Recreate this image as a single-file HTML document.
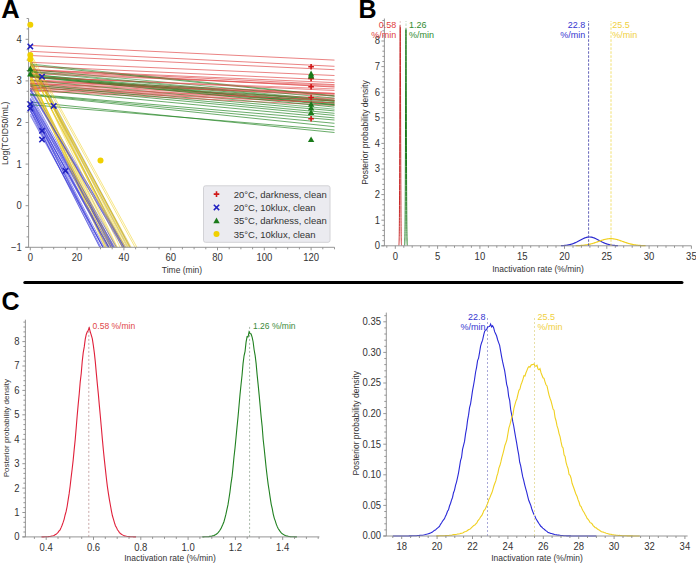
<!DOCTYPE html><html><head><meta charset="utf-8"><style>html,body{margin:0;padding:0;background:#fff;}body{width:696px;height:564px;position:relative;overflow:hidden;}</style></head><body><svg width="696" height="564" viewBox="0 0 696 564" style="position:absolute;left:0;top:0;font-family:'Liberation Sans', sans-serif">
<text x="1.3" y="17.6" font-size="25.5" text-anchor="start" fill="#000" font-weight="bold">A</text>
<line x1="30.3" y1="76.5" x2="116.1" y2="247.3" stroke="#404040" stroke-opacity="0.35" stroke-width="0.5"/>
<line x1="30.3" y1="83.5" x2="334.5" y2="110.9" stroke="#1a801a" stroke-opacity="0.65" stroke-width="1.0"/>
<line x1="30.3" y1="102.0" x2="334.5" y2="132.5" stroke="#1a801a" stroke-opacity="0.65" stroke-width="1.0"/>
<line x1="30.3" y1="70.4" x2="334.5" y2="87.1" stroke="#e04848" stroke-opacity="0.68" stroke-width="1.0"/>
<line x1="30.3" y1="94.0" x2="334.5" y2="120.0" stroke="#1a801a" stroke-opacity="0.65" stroke-width="1.0"/>
<line x1="30.3" y1="88.2" x2="334.5" y2="100.8" stroke="#e04848" stroke-opacity="0.58" stroke-width="1.0"/>
<line x1="30.3" y1="93.0" x2="114.1" y2="247.3" stroke="#3535d8" stroke-opacity="0.65" stroke-width="0.8"/>
<line x1="30.3" y1="75.8" x2="112.9" y2="247.3" stroke="#f0d020" stroke-opacity="0.6" stroke-width="0.9"/>
<line x1="30.3" y1="76.2" x2="334.5" y2="103.6" stroke="#1a801a" stroke-opacity="0.55" stroke-width="1.0"/>
<line x1="30.3" y1="63.1" x2="127.0" y2="247.3" stroke="#f0d020" stroke-opacity="0.6" stroke-width="0.9"/>
<line x1="30.3" y1="69.9" x2="334.5" y2="84.6" stroke="#e04848" stroke-opacity="0.68" stroke-width="1.0"/>
<line x1="30.3" y1="72.1" x2="334.5" y2="86.6" stroke="#e04848" stroke-opacity="0.58" stroke-width="1.0"/>
<line x1="30.3" y1="45.5" x2="334.5" y2="60.1" stroke="#e04848" stroke-opacity="0.68" stroke-width="1.0"/>
<line x1="30.3" y1="90.9" x2="334.5" y2="105.4" stroke="#e04848" stroke-opacity="0.68" stroke-width="1.0"/>
<line x1="30.3" y1="89.1" x2="334.5" y2="117.9" stroke="#1a801a" stroke-opacity="0.65" stroke-width="1.0"/>
<line x1="30.3" y1="74.4" x2="334.5" y2="104.8" stroke="#1a801a" stroke-opacity="0.55" stroke-width="1.0"/>
<line x1="30.3" y1="89.8" x2="125.8" y2="247.3" stroke="#3535d8" stroke-opacity="0.65" stroke-width="0.8"/>
<line x1="30.3" y1="83.2" x2="334.5" y2="98.4" stroke="#e04848" stroke-opacity="0.68" stroke-width="1.0"/>
<line x1="30.3" y1="81.6" x2="111.1" y2="247.3" stroke="#f0d020" stroke-opacity="0.6" stroke-width="0.9"/>
<line x1="30.3" y1="83.2" x2="109.0" y2="247.3" stroke="#f0d020" stroke-opacity="0.6" stroke-width="0.9"/>
<line x1="30.3" y1="77.1" x2="334.5" y2="105.3" stroke="#1a801a" stroke-opacity="0.55" stroke-width="1.0"/>
<line x1="30.3" y1="69.4" x2="123.9" y2="247.3" stroke="#f0d020" stroke-opacity="0.6" stroke-width="0.9"/>
<line x1="30.3" y1="80.5" x2="106.2" y2="247.3" stroke="#f0d020" stroke-opacity="0.6" stroke-width="0.9"/>
<line x1="30.3" y1="110.0" x2="109.2" y2="247.3" stroke="#3535d8" stroke-opacity="0.65" stroke-width="0.8"/>
<line x1="30.3" y1="81.0" x2="334.5" y2="93.4" stroke="#e04848" stroke-opacity="0.58" stroke-width="1.0"/>
<line x1="30.3" y1="63.2" x2="129.9" y2="247.3" stroke="#f0d020" stroke-opacity="0.6" stroke-width="0.9"/>
<line x1="30.3" y1="65.3" x2="334.5" y2="96.3" stroke="#1a801a" stroke-opacity="0.65" stroke-width="1.0"/>
<line x1="30.3" y1="61.6" x2="122.3" y2="247.3" stroke="#f0d020" stroke-opacity="0.6" stroke-width="0.9"/>
<line x1="30.3" y1="73.0" x2="106.0" y2="247.3" stroke="#404040" stroke-opacity="0.35" stroke-width="0.5"/>
<line x1="30.3" y1="63.8" x2="128.8" y2="247.3" stroke="#404040" stroke-opacity="0.35" stroke-width="0.5"/>
<line x1="30.3" y1="62.3" x2="334.5" y2="75.5" stroke="#e04848" stroke-opacity="0.68" stroke-width="1.0"/>
<line x1="30.3" y1="84.3" x2="334.5" y2="99.1" stroke="#e04848" stroke-opacity="0.58" stroke-width="1.0"/>
<line x1="30.3" y1="60.6" x2="125.6" y2="247.3" stroke="#f0d020" stroke-opacity="0.6" stroke-width="0.9"/>
<line x1="30.3" y1="102.9" x2="113.0" y2="247.3" stroke="#3535d8" stroke-opacity="0.65" stroke-width="0.8"/>
<line x1="30.3" y1="78.3" x2="110.1" y2="247.3" stroke="#f0d020" stroke-opacity="0.6" stroke-width="0.9"/>
<line x1="30.3" y1="80.5" x2="334.5" y2="95.9" stroke="#e04848" stroke-opacity="0.68" stroke-width="1.0"/>
<line x1="30.3" y1="66.2" x2="334.5" y2="80.1" stroke="#e04848" stroke-opacity="0.68" stroke-width="1.0"/>
<line x1="30.3" y1="111.2" x2="99.7" y2="247.3" stroke="#3535d8" stroke-opacity="0.65" stroke-width="0.8"/>
<line x1="30.3" y1="79.8" x2="334.5" y2="93.4" stroke="#e04848" stroke-opacity="0.68" stroke-width="1.0"/>
<line x1="30.3" y1="109.5" x2="103.1" y2="247.3" stroke="#3535d8" stroke-opacity="0.65" stroke-width="0.8"/>
<line x1="30.3" y1="84.5" x2="124.4" y2="247.3" stroke="#3535d8" stroke-opacity="0.65" stroke-width="0.8"/>
<line x1="30.3" y1="76.0" x2="334.5" y2="104.6" stroke="#1a801a" stroke-opacity="0.65" stroke-width="1.0"/>
<line x1="30.3" y1="74.4" x2="334.5" y2="101.3" stroke="#1a801a" stroke-opacity="0.65" stroke-width="1.0"/>
<line x1="30.3" y1="69.1" x2="125.0" y2="247.3" stroke="#f0d020" stroke-opacity="0.6" stroke-width="0.9"/>
<line x1="30.3" y1="99.4" x2="112.5" y2="247.3" stroke="#3535d8" stroke-opacity="0.65" stroke-width="0.8"/>
<line x1="30.3" y1="91.0" x2="123.3" y2="247.3" stroke="#3535d8" stroke-opacity="0.65" stroke-width="0.8"/>
<line x1="30.3" y1="65.1" x2="128.2" y2="247.3" stroke="#f0d020" stroke-opacity="0.6" stroke-width="0.9"/>
<line x1="30.3" y1="80.4" x2="111.7" y2="247.3" stroke="#404040" stroke-opacity="0.35" stroke-width="0.5"/>
<line x1="30.3" y1="94.5" x2="334.5" y2="123.3" stroke="#1a801a" stroke-opacity="0.65" stroke-width="1.0"/>
<line x1="30.3" y1="68.2" x2="124.5" y2="247.3" stroke="#404040" stroke-opacity="0.35" stroke-width="0.5"/>
<line x1="30.3" y1="86.5" x2="334.5" y2="115.4" stroke="#1a801a" stroke-opacity="0.65" stroke-width="1.0"/>
<line x1="30.3" y1="76.9" x2="116.8" y2="247.3" stroke="#f0d020" stroke-opacity="0.6" stroke-width="0.9"/>
<line x1="30.3" y1="110.7" x2="100.0" y2="247.3" stroke="#3535d8" stroke-opacity="0.65" stroke-width="0.8"/>
<line x1="30.3" y1="60.4" x2="122.9" y2="247.3" stroke="#404040" stroke-opacity="0.35" stroke-width="0.5"/>
<line x1="30.3" y1="105.7" x2="100.9" y2="247.3" stroke="#3535d8" stroke-opacity="0.65" stroke-width="0.8"/>
<line x1="30.3" y1="82.0" x2="334.5" y2="94.2" stroke="#e04848" stroke-opacity="0.58" stroke-width="1.0"/>
<line x1="30.3" y1="106.7" x2="102.7" y2="247.3" stroke="#3535d8" stroke-opacity="0.65" stroke-width="0.8"/>
<line x1="30.3" y1="115.6" x2="102.9" y2="247.3" stroke="#3535d8" stroke-opacity="0.65" stroke-width="0.8"/>
<line x1="30.3" y1="53.2" x2="136.9" y2="247.3" stroke="#f0d020" stroke-opacity="0.6" stroke-width="0.9"/>
<line x1="30.3" y1="102.2" x2="114.8" y2="247.3" stroke="#3535d8" stroke-opacity="0.65" stroke-width="0.8"/>
<line x1="30.3" y1="63.3" x2="131.2" y2="247.3" stroke="#f0d020" stroke-opacity="0.6" stroke-width="0.9"/>
<line x1="30.3" y1="59.8" x2="129.7" y2="247.3" stroke="#f0d020" stroke-opacity="0.6" stroke-width="0.9"/>
<line x1="30.3" y1="55.5" x2="334.5" y2="69.7" stroke="#e04848" stroke-opacity="0.68" stroke-width="1.0"/>
<line x1="30.3" y1="58.5" x2="130.4" y2="247.3" stroke="#404040" stroke-opacity="0.35" stroke-width="0.5"/>
<line x1="30.3" y1="74.5" x2="111.4" y2="247.3" stroke="#f0d020" stroke-opacity="0.6" stroke-width="0.9"/>
<line x1="30.3" y1="51.3" x2="334.5" y2="66.3" stroke="#e04848" stroke-opacity="0.68" stroke-width="1.0"/>
<line x1="30.3" y1="105.2" x2="108.8" y2="247.3" stroke="#3535d8" stroke-opacity="0.65" stroke-width="0.8"/>
<line x1="30.3" y1="80.3" x2="334.5" y2="109.2" stroke="#1a801a" stroke-opacity="0.55" stroke-width="1.0"/>
<line x1="30.3" y1="85.7" x2="334.5" y2="100.5" stroke="#e04848" stroke-opacity="0.68" stroke-width="1.0"/>
<line x1="30.3" y1="74.3" x2="105.5" y2="247.3" stroke="#f0d020" stroke-opacity="0.6" stroke-width="0.9"/>
<line x1="30.3" y1="104.7" x2="334.5" y2="130.0" stroke="#1a801a" stroke-opacity="0.65" stroke-width="1.0"/>
<line x1="30.3" y1="106.0" x2="104.3" y2="247.3" stroke="#3535d8" stroke-opacity="0.65" stroke-width="0.8"/>
<line x1="30.3" y1="68.4" x2="122.5" y2="247.3" stroke="#f0d020" stroke-opacity="0.6" stroke-width="0.9"/>
<line x1="30.3" y1="77.7" x2="115.4" y2="247.3" stroke="#f0d020" stroke-opacity="0.6" stroke-width="0.9"/>
<line x1="30.3" y1="97.9" x2="113.7" y2="247.3" stroke="#3535d8" stroke-opacity="0.65" stroke-width="0.8"/>
<line x1="30.3" y1="64.0" x2="334.5" y2="95.8" stroke="#1a801a" stroke-opacity="0.55" stroke-width="1.0"/>
<line x1="30.3" y1="98.8" x2="116.5" y2="247.3" stroke="#3535d8" stroke-opacity="0.65" stroke-width="0.8"/>
<line x1="30.3" y1="69.6" x2="334.5" y2="98.1" stroke="#1a801a" stroke-opacity="0.55" stroke-width="1.0"/>
<line x1="30.3" y1="60.4" x2="120.1" y2="247.3" stroke="#f0d020" stroke-opacity="0.6" stroke-width="0.9"/>
<line x1="30.3" y1="95.1" x2="334.5" y2="126.7" stroke="#1a801a" stroke-opacity="0.65" stroke-width="1.0"/>
<line x1="30.3" y1="100.0" x2="108.7" y2="247.3" stroke="#3535d8" stroke-opacity="0.65" stroke-width="0.8"/>
<line x1="30.3" y1="95.0" x2="111.4" y2="247.3" stroke="#3535d8" stroke-opacity="0.65" stroke-width="0.8"/>
<line x1="30.3" y1="60.6" x2="129.6" y2="247.3" stroke="#f0d020" stroke-opacity="0.6" stroke-width="0.9"/>
<line x1="30.3" y1="107.6" x2="110.8" y2="247.3" stroke="#3535d8" stroke-opacity="0.65" stroke-width="0.8"/>
<line x1="30.3" y1="72.1" x2="334.5" y2="101.2" stroke="#1a801a" stroke-opacity="0.55" stroke-width="1.0"/>
<line x1="30.3" y1="76.7" x2="334.5" y2="90.5" stroke="#e04848" stroke-opacity="0.68" stroke-width="1.0"/>
<line x1="30.3" y1="74.4" x2="107.7" y2="247.3" stroke="#f0d020" stroke-opacity="0.6" stroke-width="0.9"/>
<line x1="30.3" y1="78.5" x2="104.7" y2="247.3" stroke="#f0d020" stroke-opacity="0.6" stroke-width="0.9"/>
<line x1="30.3" y1="89.9" x2="334.5" y2="102.9" stroke="#e04848" stroke-opacity="0.68" stroke-width="1.0"/>
<line x1="30.3" y1="77.4" x2="334.5" y2="88.9" stroke="#e04848" stroke-opacity="0.58" stroke-width="1.0"/>
<line x1="30.3" y1="86.9" x2="334.5" y2="100.2" stroke="#e04848" stroke-opacity="0.58" stroke-width="1.0"/>
<line x1="30.3" y1="88.1" x2="334.5" y2="103.0" stroke="#e04848" stroke-opacity="0.58" stroke-width="1.0"/>
<line x1="30.3" y1="89.8" x2="124.2" y2="247.3" stroke="#3535d8" stroke-opacity="0.65" stroke-width="0.8"/>
<line x1="30.3" y1="71.2" x2="334.5" y2="100.2" stroke="#1a801a" stroke-opacity="0.55" stroke-width="1.0"/>
<line x1="30.3" y1="73.7" x2="334.5" y2="85.3" stroke="#e04848" stroke-opacity="0.58" stroke-width="1.0"/>
<line x1="30.3" y1="56.1" x2="135.1" y2="247.3" stroke="#f0d020" stroke-opacity="0.6" stroke-width="0.9"/>
<line x1="30.3" y1="88.0" x2="122.4" y2="247.3" stroke="#3535d8" stroke-opacity="0.65" stroke-width="0.8"/>
<line x1="30.3" y1="104.1" x2="107.5" y2="247.3" stroke="#3535d8" stroke-opacity="0.65" stroke-width="0.8"/>
<line x1="30.3" y1="76.5" x2="334.5" y2="107.1" stroke="#1a801a" stroke-opacity="0.65" stroke-width="1.0"/>
<line x1="30.3" y1="59.3" x2="130.3" y2="247.3" stroke="#404040" stroke-opacity="0.35" stroke-width="0.5"/>
<line x1="30.3" y1="61.8" x2="127.7" y2="247.3" stroke="#404040" stroke-opacity="0.35" stroke-width="0.5"/>
<line x1="30.3" y1="83.6" x2="334.5" y2="94.1" stroke="#e04848" stroke-opacity="0.58" stroke-width="1.0"/>
<line x1="30.3" y1="114.0" x2="103.1" y2="247.3" stroke="#3535d8" stroke-opacity="0.65" stroke-width="0.8"/>
<line x1="30.3" y1="84.9" x2="334.5" y2="113.3" stroke="#1a801a" stroke-opacity="0.65" stroke-width="1.0"/>
<line x1="30.3" y1="69.6" x2="334.5" y2="82.6" stroke="#e04848" stroke-opacity="0.68" stroke-width="1.0"/>
<line x1="30.3" y1="65.9" x2="117.4" y2="247.3" stroke="#f0d020" stroke-opacity="0.6" stroke-width="0.9"/>
<line x1="30.3" y1="103.6" x2="108.5" y2="247.3" stroke="#3535d8" stroke-opacity="0.65" stroke-width="0.8"/>
<line x1="30.3" y1="75.4" x2="334.5" y2="102.6" stroke="#1a801a" stroke-opacity="0.55" stroke-width="1.0"/>
<path d="M25.1 247.3H334.5M28.6 247.3V18.5M30.3 247.3v3M42.0 247.3v2M53.7 247.3v2M65.4 247.3v2M77.1 247.3v3M88.8 247.3v2M100.5 247.3v2M112.2 247.3v2M123.9 247.3v3M135.6 247.3v2M147.3 247.3v2M159.0 247.3v2M170.7 247.3v3M182.4 247.3v2M194.1 247.3v2M205.8 247.3v2M217.5 247.3v3M229.2 247.3v2M240.9 247.3v2M252.6 247.3v2M264.3 247.3v3M276.0 247.3v2M287.7 247.3v2M299.4 247.3v2M311.1 247.3v3M322.8 247.3v2M334.5 247.3v2M28.6 247.3h-3M28.6 236.9h-2M28.6 226.5h-2M28.6 216.1h-2M28.6 205.7h-3M28.6 195.3h-2M28.6 184.9h-2M28.6 174.5h-2M28.6 164.1h-3M28.6 153.7h-2M28.6 143.3h-2M28.6 132.9h-2M28.6 122.5h-3M28.6 112.1h-2M28.6 101.7h-2M28.6 91.3h-2M28.6 80.9h-3M28.6 70.5h-2M28.6 60.1h-2M28.6 49.7h-2M28.6 39.3h-3M28.6 28.9h-2M28.6 18.5h-2" stroke="#8a8a8a" stroke-width="0.9" fill="none"/>
<text x="30.3" y="261.2" font-size="10.07" text-anchor="middle" fill="#333" textLength="5.28" lengthAdjust="spacingAndGlyphs">0</text>
<text x="77.1" y="261.2" font-size="10.07" text-anchor="middle" fill="#333" textLength="10.56" lengthAdjust="spacingAndGlyphs">20</text>
<text x="123.9" y="261.2" font-size="10.07" text-anchor="middle" fill="#333" textLength="10.56" lengthAdjust="spacingAndGlyphs">40</text>
<text x="170.7" y="261.2" font-size="10.07" text-anchor="middle" fill="#333" textLength="10.56" lengthAdjust="spacingAndGlyphs">60</text>
<text x="217.5" y="261.2" font-size="10.07" text-anchor="middle" fill="#333" textLength="10.56" lengthAdjust="spacingAndGlyphs">80</text>
<text x="264.3" y="261.2" font-size="10.07" text-anchor="middle" fill="#333" textLength="15.85" lengthAdjust="spacingAndGlyphs">100</text>
<text x="311.1" y="261.2" font-size="10.07" text-anchor="middle" fill="#333" textLength="15.85" lengthAdjust="spacingAndGlyphs">120</text>
<text x="21.8" y="250.7" font-size="10.07" text-anchor="end" fill="#333" textLength="10.83" lengthAdjust="spacingAndGlyphs">−1</text>
<text x="21.8" y="209.1" font-size="10.07" text-anchor="end" fill="#333" textLength="5.28" lengthAdjust="spacingAndGlyphs">0</text>
<text x="21.8" y="167.5" font-size="10.07" text-anchor="end" fill="#333" textLength="5.28" lengthAdjust="spacingAndGlyphs">1</text>
<text x="21.8" y="125.9" font-size="10.07" text-anchor="end" fill="#333" textLength="5.28" lengthAdjust="spacingAndGlyphs">2</text>
<text x="21.8" y="84.3" font-size="10.07" text-anchor="end" fill="#333" textLength="5.28" lengthAdjust="spacingAndGlyphs">3</text>
<text x="21.8" y="42.7" font-size="10.07" text-anchor="end" fill="#333" textLength="5.28" lengthAdjust="spacingAndGlyphs">4</text>
<text x="182.0" y="272.5" font-size="8.5" text-anchor="middle" fill="#333" >Time (min)</text>
<text x="0.0" y="0.0" font-size="8.5" text-anchor="middle" fill="#333" transform="translate(7.6,133.3) rotate(-90)">Log(TCID50/mL)</text>
<path d="M308.3 66.8h5.6M311.1 64.0v5.6" stroke="#d01818" stroke-width="1.6"/>
<path d="M308.3 78.4h5.6M311.1 75.6v5.6" stroke="#d01818" stroke-width="1.6"/>
<path d="M308.3 86.7h5.6M311.1 83.9v5.6" stroke="#d01818" stroke-width="1.6"/>
<path d="M308.3 97.5h5.6M311.1 94.7v5.6" stroke="#d01818" stroke-width="1.6"/>
<path d="M308.3 118.8h5.6M311.1 116.0v5.6" stroke="#d01818" stroke-width="1.6"/>
<path d="M311.1 70.6L314.3 76.4H307.9Z" fill="#1a7a1a"/>
<path d="M311.1 72.7L314.3 78.5H307.9Z" fill="#1a7a1a"/>
<path d="M311.1 101.0L314.3 106.8H307.9Z" fill="#1a7a1a"/>
<path d="M311.1 109.3L314.3 115.1H307.9Z" fill="#1a7a1a"/>
<path d="M311.1 136.4L314.3 142.1H307.9Z" fill="#1a7a1a"/>
<path d="M311.1 104.7L314.3 110.5H307.9Z" fill="#1a7a1a"/>
<path d="M27.6 43.7l5.4 5.4M27.6 49.1l5.4 -5.4" stroke="#2020c0" stroke-width="1.5"/>
<path d="M27.6 101.5l5.4 5.4M27.6 106.9l5.4 -5.4" stroke="#2020c0" stroke-width="1.5"/>
<path d="M27.6 105.7l5.4 5.4M27.6 111.1l5.4 -5.4" stroke="#2020c0" stroke-width="1.5"/>
<path d="M39.3 74.0l5.4 5.4M39.3 79.4l5.4 -5.4" stroke="#2020c0" stroke-width="1.5"/>
<path d="M51.0 103.2l5.4 5.4M51.0 108.6l5.4 -5.4" stroke="#2020c0" stroke-width="1.5"/>
<path d="M39.3 128.1l5.4 5.4M39.3 133.5l5.4 -5.4" stroke="#2020c0" stroke-width="1.5"/>
<path d="M39.3 136.9l5.4 5.4M39.3 142.3l5.4 -5.4" stroke="#2020c0" stroke-width="1.5"/>
<path d="M62.7 168.1l5.4 5.4M62.7 173.5l5.4 -5.4" stroke="#2020c0" stroke-width="1.5"/>
<circle cx="30.3" cy="24.7" r="3.0" fill="#f0d000"/>
<circle cx="30.3" cy="55.1" r="3.0" fill="#f0d000"/>
<circle cx="30.3" cy="59.3" r="3.0" fill="#f0d000"/>
<circle cx="100.5" cy="160.4" r="3.0" fill="#f0d000"/>
<path d="M30.3 65.6L33.5 71.4H27.1Z" fill="#1a7a1a"/>
<path d="M30.3 70.6L33.5 76.4H27.1Z" fill="#1a7a1a"/>
<rect x="203.5" y="185.8" width="126.5" height="56.5" rx="2" fill="#ebebf0" stroke="#d2d2d6" stroke-width="1"/>
<path d="M213.7 194.1h5.6M216.5 191.3v5.6" stroke="#d01818" stroke-width="1.6"/>
<text x="233.7" y="197.6" font-size="9.88" text-anchor="start" fill="#333" textLength="93.04" lengthAdjust="spacingAndGlyphs">20°C, darkness, clean</text>
<path d="M213.8 204.7l5.4 5.4M213.8 210.1l5.4 -5.4" stroke="#2020c0" stroke-width="1.5"/>
<text x="233.7" y="210.9" font-size="9.88" text-anchor="start" fill="#333" textLength="81.96" lengthAdjust="spacingAndGlyphs">20°C, 10klux, clean</text>
<path d="M216.5 217.5L219.7 223.3H213.3Z" fill="#1a7a1a"/>
<text x="233.7" y="224.2" font-size="9.88" text-anchor="start" fill="#333" textLength="93.04" lengthAdjust="spacingAndGlyphs">35°C, darkness, clean</text>
<circle cx="216.5" cy="234.0" r="3.0" fill="#f0d000"/>
<text x="233.7" y="237.5" font-size="9.88" text-anchor="start" fill="#333" textLength="81.96" lengthAdjust="spacingAndGlyphs">35°C, 10klux, clean</text>
<text x="358.5" y="17.5" font-size="25" text-anchor="start" fill="#000" font-weight="bold">B</text>
<polyline points="398.80,245.46 398.82,245.38 398.84,245.28 398.87,245.16 398.89,245.01 398.92,244.84 398.94,244.63 398.96,244.38 398.99,244.08 399.01,243.73 399.03,243.31 399.06,242.82 399.08,242.25 399.10,241.59 399.13,240.81 399.15,239.92 399.18,238.89 399.20,237.71 399.22,236.37 399.25,234.84 399.27,233.12 399.29,231.17 399.32,228.98 399.34,226.55 399.37,223.83 399.39,220.83 399.41,217.52 399.44,213.89 399.46,209.92 399.48,205.61 399.51,200.95 399.53,195.92 399.56,190.54 399.58,184.80 399.60,178.71 399.63,172.28 399.65,165.53 399.67,158.47 399.70,151.15 399.72,143.59 399.74,135.82 399.77,127.90 399.79,119.87 399.82,111.79 399.84,103.70 399.86,95.68 399.89,87.79 399.91,80.08 399.93,72.64 399.96,65.53 399.98,58.81 400.01,52.54 400.03,46.80 400.05,41.63 400.08,37.10 400.10,33.24 400.12,30.11 400.15,27.73 400.17,26.13 400.19,25.32 400.22,25.32 400.24,26.13 400.27,27.73 400.29,30.11 400.31,33.24 400.34,37.10 400.36,41.63 400.38,46.80 400.41,52.54 400.43,58.81 400.46,65.53 400.48,72.64 400.50,80.08 400.53,87.79 400.55,95.68 400.57,103.70 400.60,111.79 400.62,119.87 400.65,127.90 400.67,135.82 400.69,143.59 400.72,151.15 400.74,158.47 400.76,165.53 400.79,172.28 400.81,178.71 400.83,184.80 400.86,190.54 400.88,195.92 400.91,200.95 400.93,205.61 400.95,209.92 400.98,213.89 401.00,217.52 401.02,220.83 401.05,223.83 401.07,226.55 401.10,228.98 401.12,231.17 401.14,233.12 401.17,234.84 401.19,236.37 401.21,237.71 401.24,238.89 401.26,239.92 401.29,240.81 401.31,241.59 401.33,242.25 401.36,242.82 401.38,243.31 401.40,243.73 401.43,244.08 401.45,244.38 401.47,244.63 401.50,244.84 401.52,245.01 401.55,245.16 401.57,245.28 401.59,245.38 401.62,245.46" fill="none" stroke="#c82828" stroke-width="1.0"/>
<polyline points="404.53,245.47 404.55,245.39 404.58,245.29 404.60,245.17 404.62,245.03 404.65,244.85 404.67,244.65 404.70,244.40 404.72,244.11 404.74,243.76 404.77,243.35 404.79,242.87 404.82,242.30 404.84,241.65 404.86,240.89 404.89,240.01 404.91,238.99 404.94,237.83 404.96,236.51 404.99,235.01 405.01,233.30 405.03,231.39 405.06,229.24 405.08,226.83 405.11,224.16 405.13,221.20 405.15,217.94 405.18,214.36 405.20,210.46 405.23,206.21 405.25,201.62 405.27,196.67 405.30,191.36 405.32,185.71 405.35,179.71 405.37,173.37 405.39,166.72 405.42,159.78 405.44,152.56 405.47,145.11 405.49,137.46 405.51,129.66 405.54,121.75 405.56,113.78 405.59,105.82 405.61,97.92 405.63,90.14 405.66,82.55 405.68,75.22 405.71,68.21 405.73,61.59 405.76,55.42 405.78,49.76 405.80,44.67 405.83,40.21 405.85,36.41 405.88,33.32 405.90,30.98 405.92,29.40 405.95,28.60 405.97,28.60 406.00,29.40 406.02,30.98 406.04,33.32 406.07,36.41 406.09,40.21 406.12,44.67 406.14,49.76 406.16,55.42 406.19,61.59 406.21,68.21 406.24,75.22 406.26,82.55 406.28,90.14 406.31,97.92 406.33,105.82 406.36,113.78 406.38,121.75 406.40,129.66 406.43,137.46 406.45,145.11 406.48,152.56 406.50,159.78 406.52,166.72 406.55,173.37 406.57,179.71 406.60,185.71 406.62,191.36 406.65,196.67 406.67,201.62 406.69,206.21 406.72,210.46 406.74,214.36 406.77,217.94 406.79,221.20 406.81,224.16 406.84,226.83 406.86,229.24 406.89,231.39 406.91,233.30 406.93,235.01 406.96,236.51 406.98,237.83 407.01,238.99 407.03,240.01 407.05,240.89 407.08,241.65 407.10,242.30 407.13,242.87 407.15,243.35 407.17,243.76 407.20,244.11 407.22,244.40 407.25,244.65 407.27,244.85 407.29,245.03 407.32,245.17 407.34,245.29 407.37,245.39 407.39,245.47" fill="none" stroke="#1a7a1a" stroke-width="1.0"/>
<polyline points="561.00,245.67 561.48,245.65 561.95,245.63 562.43,245.60 562.91,245.57 563.39,245.54 563.87,245.51 564.35,245.47 564.82,245.42 565.30,245.37 565.78,245.32 566.26,245.26 566.74,245.20 567.22,245.12 567.69,245.05 568.17,244.96 568.65,244.87 569.13,244.77 569.61,244.66 570.09,244.55 570.56,244.42 571.04,244.29 571.52,244.14 572.00,243.99 572.48,243.83 572.96,243.66 573.43,243.48 573.91,243.29 574.39,243.09 574.87,242.88 575.35,242.67 575.83,242.44 576.30,242.21 576.78,241.98 577.26,241.73 577.74,241.48 578.22,241.23 578.70,240.97 579.17,240.72 579.65,240.46 580.13,240.20 580.61,239.94 581.09,239.68 581.56,239.43 582.04,239.18 582.52,238.94 583.00,238.71 583.48,238.49 583.96,238.28 584.43,238.08 584.91,237.89 585.39,237.72 585.87,237.56 586.35,237.43 586.83,237.31 587.30,237.20 587.78,237.12 588.26,237.06 588.74,237.02 589.22,237.00 589.70,237.00 590.17,237.02 590.65,237.06 591.13,237.12 591.61,237.20 592.09,237.31 592.57,237.43 593.04,237.56 593.52,237.72 594.00,237.89 594.48,238.08 594.96,238.28 595.44,238.49 595.91,238.71 596.39,238.94 596.87,239.18 597.35,239.43 597.83,239.68 598.31,239.94 598.78,240.20 599.26,240.46 599.74,240.72 600.22,240.97 600.70,241.23 601.18,241.48 601.65,241.73 602.13,241.98 602.61,242.21 603.09,242.44 603.57,242.67 604.05,242.88 604.52,243.09 605.00,243.29 605.48,243.48 605.96,243.66 606.44,243.83 606.92,243.99 607.39,244.14 607.87,244.29 608.35,244.42 608.83,244.55 609.31,244.66 609.79,244.77 610.26,244.87 610.74,244.96 611.22,245.05 611.70,245.12 612.18,245.20 612.66,245.26 613.13,245.32 613.61,245.37 614.09,245.42 614.57,245.47 615.05,245.51 615.52,245.54 616.00,245.57 616.48,245.60 616.96,245.63 617.44,245.65 617.92,245.67" fill="none" stroke="#2a2ad0" stroke-width="1.2"/>
<polyline points="575.65,245.69 576.23,245.68 576.82,245.66 577.41,245.64 578.00,245.62 578.58,245.59 579.17,245.56 579.76,245.53 580.35,245.49 580.93,245.45 581.52,245.41 582.11,245.36 582.70,245.31 583.28,245.25 583.87,245.19 584.46,245.12 585.05,245.04 585.63,244.96 586.22,244.87 586.81,244.78 587.40,244.68 587.99,244.57 588.57,244.45 589.16,244.33 589.75,244.20 590.34,244.06 590.92,243.91 591.51,243.76 592.10,243.59 592.69,243.43 593.27,243.25 593.86,243.07 594.45,242.88 595.04,242.69 595.62,242.49 596.21,242.29 596.80,242.08 597.39,241.87 597.97,241.66 598.56,241.45 599.15,241.24 599.74,241.03 600.32,240.82 600.91,240.61 601.50,240.41 602.09,240.22 602.67,240.03 603.26,239.85 603.85,239.67 604.44,239.51 605.02,239.36 605.61,239.22 606.20,239.10 606.79,238.98 607.38,238.89 607.96,238.80 608.55,238.74 609.14,238.69 609.73,238.65 610.31,238.64 610.90,238.64 611.49,238.65 612.08,238.69 612.66,238.74 613.25,238.80 613.84,238.89 614.43,238.98 615.01,239.10 615.60,239.22 616.19,239.36 616.78,239.51 617.36,239.67 617.95,239.85 618.54,240.03 619.13,240.22 619.71,240.41 620.30,240.61 620.89,240.82 621.48,241.03 622.06,241.24 622.65,241.45 623.24,241.66 623.83,241.87 624.42,242.08 625.00,242.29 625.59,242.49 626.18,242.69 626.77,242.88 627.35,243.07 627.94,243.25 628.53,243.43 629.12,243.59 629.70,243.76 630.29,243.91 630.88,244.06 631.47,244.20 632.05,244.33 632.64,244.45 633.23,244.57 633.82,244.68 634.40,244.78 634.99,244.87 635.58,244.96 636.17,245.04 636.75,245.12 637.34,245.19 637.93,245.25 638.52,245.31 639.10,245.36 639.69,245.41 640.28,245.45 640.87,245.49 641.45,245.53 642.04,245.56 642.63,245.59 643.22,245.62 643.81,245.64 644.39,245.66 644.98,245.68 645.57,245.69" fill="none" stroke="#f0d020" stroke-width="1.2"/>
<path d="M381.4 245.8H691.4M384.4 245.8V18.5M386.8 245.8v2M395.3 245.8v3M403.8 245.8v2M412.2 245.8v2M420.7 245.8v2M429.1 245.8v2M437.6 245.8v3M446.1 245.8v2M454.5 245.8v2M463.0 245.8v2M471.4 245.8v2M479.9 245.8v3M488.4 245.8v2M496.8 245.8v2M505.3 245.8v2M513.7 245.8v2M522.2 245.8v3M530.7 245.8v2M539.1 245.8v2M547.6 245.8v2M556.0 245.8v2M564.5 245.8v3M573.0 245.8v2M581.4 245.8v2M589.9 245.8v2M598.3 245.8v2M606.8 245.8v3M615.3 245.8v2M623.7 245.8v2M632.2 245.8v2M640.6 245.8v2M649.1 245.8v3M657.6 245.8v2M666.0 245.8v2M674.5 245.8v2M682.9 245.8v2M691.4 245.8v3M384.4 245.8h-3M384.4 240.7h-2M384.4 235.6h-2M384.4 230.4h-2M384.4 225.3h-2M384.4 220.2h-3M384.4 215.1h-2M384.4 210.0h-2M384.4 204.8h-2M384.4 199.7h-2M384.4 194.6h-3M384.4 189.5h-2M384.4 184.4h-2M384.4 179.2h-2M384.4 174.1h-2M384.4 169.0h-3M384.4 163.9h-2M384.4 158.8h-2M384.4 153.6h-2M384.4 148.5h-2M384.4 143.4h-3M384.4 138.3h-2M384.4 133.2h-2M384.4 128.0h-2M384.4 122.9h-2M384.4 117.8h-3M384.4 112.7h-2M384.4 107.6h-2M384.4 102.4h-2M384.4 97.3h-2M384.4 92.2h-3M384.4 87.1h-2M384.4 82.0h-2M384.4 76.8h-2M384.4 71.7h-2M384.4 66.6h-3M384.4 61.5h-2M384.4 56.4h-2M384.4 51.2h-2M384.4 46.1h-2M384.4 41.0h-3M384.4 35.9h-2M384.4 30.8h-2M384.4 25.6h-2M384.4 20.5h-2" stroke="#8a8a8a" stroke-width="0.9" fill="none"/>
<text x="395.3" y="260.1" font-size="10.07" text-anchor="middle" fill="#333" textLength="5.28" lengthAdjust="spacingAndGlyphs">0</text>
<text x="437.6" y="260.1" font-size="10.07" text-anchor="middle" fill="#333" textLength="5.28" lengthAdjust="spacingAndGlyphs">5</text>
<text x="479.9" y="260.1" font-size="10.07" text-anchor="middle" fill="#333" textLength="10.56" lengthAdjust="spacingAndGlyphs">10</text>
<text x="522.2" y="260.1" font-size="10.07" text-anchor="middle" fill="#333" textLength="10.56" lengthAdjust="spacingAndGlyphs">15</text>
<text x="564.5" y="260.1" font-size="10.07" text-anchor="middle" fill="#333" textLength="10.56" lengthAdjust="spacingAndGlyphs">20</text>
<text x="606.8" y="260.1" font-size="10.07" text-anchor="middle" fill="#333" textLength="10.56" lengthAdjust="spacingAndGlyphs">25</text>
<text x="649.1" y="260.1" font-size="10.07" text-anchor="middle" fill="#333" textLength="10.56" lengthAdjust="spacingAndGlyphs">30</text>
<text x="691.4" y="260.1" font-size="10.07" text-anchor="middle" fill="#333" textLength="10.56" lengthAdjust="spacingAndGlyphs">35</text>
<text x="380.0" y="249.2" font-size="10.07" text-anchor="end" fill="#333" textLength="5.28" lengthAdjust="spacingAndGlyphs">0</text>
<text x="380.0" y="223.6" font-size="10.07" text-anchor="end" fill="#333" textLength="5.28" lengthAdjust="spacingAndGlyphs">1</text>
<text x="380.0" y="198.0" font-size="10.07" text-anchor="end" fill="#333" textLength="5.28" lengthAdjust="spacingAndGlyphs">2</text>
<text x="380.0" y="172.4" font-size="10.07" text-anchor="end" fill="#333" textLength="5.28" lengthAdjust="spacingAndGlyphs">3</text>
<text x="380.0" y="146.8" font-size="10.07" text-anchor="end" fill="#333" textLength="5.28" lengthAdjust="spacingAndGlyphs">4</text>
<text x="380.0" y="121.2" font-size="10.07" text-anchor="end" fill="#333" textLength="5.28" lengthAdjust="spacingAndGlyphs">5</text>
<text x="380.0" y="95.6" font-size="10.07" text-anchor="end" fill="#333" textLength="5.28" lengthAdjust="spacingAndGlyphs">6</text>
<text x="380.0" y="70.0" font-size="10.07" text-anchor="end" fill="#333" textLength="5.28" lengthAdjust="spacingAndGlyphs">7</text>
<text x="380.0" y="44.4" font-size="10.07" text-anchor="end" fill="#333" textLength="5.28" lengthAdjust="spacingAndGlyphs">8</text>
<text x="538.0" y="272.0" font-size="8.5" text-anchor="middle" fill="#333" >Inactivation rate (%/min)</text>
<text x="0.0" y="0.0" font-size="8.5" text-anchor="middle" fill="#333" transform="translate(368,132.5) rotate(-90)">Posterior probability density</text>
<line x1="400.2" y1="27" x2="400.2" y2="21" stroke="#e0c0c0" stroke-width="0.9" stroke-dasharray="2.5 1.5"/>
<line x1="406.0" y1="30" x2="406.0" y2="21" stroke="#b8d4b8" stroke-width="0.9" stroke-dasharray="2.5 1.5"/>
<line x1="588.6" y1="245.8" x2="588.6" y2="21" stroke="#5050b0" stroke-width="0.9" stroke-dasharray="2.5 1.5"/>
<line x1="611.0" y1="245.8" x2="611.0" y2="21" stroke="#f0dc60" stroke-width="0.9" stroke-dasharray="2.5 1.5"/>
<text x="396.3" y="28.3" font-size="9" text-anchor="end" fill="#e04040" >0.58</text>
<text x="396.3" y="38.3" font-size="9" text-anchor="end" fill="#e04040" >%/min</text>
<text x="408.9" y="28.3" font-size="9" text-anchor="start" fill="#308a30" >1.26</text>
<text x="408.9" y="38.3" font-size="9" text-anchor="start" fill="#308a30" >%/min</text>
<text x="585.3" y="28.3" font-size="9" text-anchor="end" fill="#3535d0" >22.8</text>
<text x="585.3" y="38.3" font-size="9" text-anchor="end" fill="#3535d0" >%/min</text>
<text x="612.3" y="28.3" font-size="9" text-anchor="start" fill="#f0d040" >25.5</text>
<text x="612.3" y="38.3" font-size="9" text-anchor="start" fill="#f0d040" >%/min</text>
<line x1="24.9" y1="282.5" x2="681.9" y2="282.5" stroke="#000" stroke-width="3.2" stroke-linecap="round"/>
<text x="1.6" y="309.6" font-size="25" text-anchor="start" fill="#000" font-weight="bold">C</text>
<line x1="88.8" y1="536.9" x2="88.8" y2="325" stroke="#c8a8a8" stroke-width="1" stroke-dasharray="2 2"/>
<polyline points="41.47,536.90 41.97,536.87 42.98,536.86 43.99,536.84 44.99,536.82 46.00,536.78 47.01,536.69 48.01,536.66 49.02,536.53 50.02,536.48 51.03,536.22 52.04,536.01 53.04,535.80 54.05,535.47 55.06,534.83 56.06,534.35 57.07,533.44 58.08,532.34 59.08,530.93 60.09,529.85 61.09,527.63 62.10,525.22 63.11,522.42 64.11,519.34 65.12,514.98 66.13,511.41 67.13,506.52 68.14,499.94 69.15,493.65 70.15,486.02 71.16,477.09 72.16,469.05 73.17,460.08 74.18,449.67 75.18,439.82 76.19,428.07 77.20,415.46 78.20,404.42 79.21,394.03 80.22,381.83 81.22,373.45 82.23,361.44 83.23,352.70 84.24,346.91 85.25,339.10 86.25,334.48 87.26,331.78 88.27,330.23 89.27,327.89 90.28,331.85 91.29,335.14 92.29,338.71 93.30,345.11 94.31,352.68 95.31,361.92 96.32,373.08 97.32,383.86 98.33,393.86 99.34,405.39 100.34,416.29 101.35,427.47 102.36,439.08 103.36,450.00 104.37,459.93 105.38,469.11 106.38,478.30 107.39,486.57 108.39,493.33 109.40,499.64 110.41,505.23 111.41,510.86 112.42,515.75 113.43,519.10 114.43,522.61 115.44,525.68 116.45,527.40 117.45,529.75 118.46,530.97 119.46,532.59 120.47,533.48 121.48,534.20 122.48,534.88 123.49,535.37 124.50,535.84 125.50,535.92 126.51,536.28 127.52,536.47 128.52,536.57 129.53,536.60 130.53,536.73 131.54,536.80 132.55,536.82 133.55,536.85 134.56,536.88 135.57,536.88 136.07,536.90" fill="none" stroke="#e0203a" stroke-width="1.1"/>
<line x1="249.6" y1="536.9" x2="249.6" y2="325" stroke="#a8b8a8" stroke-width="1" stroke-dasharray="2 2"/>
<polyline points="202.29,536.90 202.79,536.85 203.80,536.86 204.81,536.82 205.81,536.77 206.82,536.75 207.83,536.73 208.83,536.60 209.84,536.39 210.84,536.33 211.85,536.11 212.86,535.75 213.86,535.61 214.87,535.07 215.88,534.55 216.88,533.74 217.89,532.83 218.90,531.73 219.90,530.25 220.91,528.67 221.91,526.44 222.92,524.18 223.93,521.74 224.93,518.05 225.94,514.13 226.95,509.48 227.95,504.90 228.96,498.47 229.97,491.81 230.97,483.57 231.98,477.20 232.98,467.66 233.99,456.98 235.00,448.07 236.00,437.77 237.01,427.13 238.02,417.02 239.02,405.76 240.03,394.34 241.04,384.50 242.04,375.27 243.05,363.60 244.05,355.77 245.06,351.31 246.07,342.11 247.07,336.62 248.08,336.83 249.09,331.82 250.09,333.59 251.10,334.02 252.11,337.03 253.11,341.74 254.12,349.77 255.13,355.42 256.13,363.58 257.14,374.91 258.14,384.59 259.15,394.92 260.16,406.01 261.16,417.14 262.17,426.55 263.18,439.52 264.18,448.45 265.19,458.41 266.20,468.31 267.20,476.70 268.21,484.57 269.21,491.02 270.22,497.80 271.23,504.36 272.23,508.72 273.24,514.07 274.25,518.11 275.25,520.89 276.26,524.08 277.27,526.64 278.27,528.75 279.28,530.18 280.28,531.69 281.29,532.89 282.30,533.74 283.30,534.35 284.31,535.05 285.32,535.53 286.32,535.89 287.33,536.09 288.34,536.36 289.34,536.43 290.35,536.58 291.35,536.70 292.36,536.75 293.37,536.80 294.37,536.83 295.38,536.84 296.39,536.88 296.89,536.90" fill="none" stroke="#208020" stroke-width="1.1"/>
<path d="M22.4 536.9H319.4M25.4 536.9V319.7M34.4 536.9v2M46.2 536.9v3M58.0 536.9v2M69.8 536.9v2M81.7 536.9v2M93.5 536.9v3M105.3 536.9v2M117.2 536.9v2M129.0 536.9v2M140.8 536.9v3M152.6 536.9v2M164.5 536.9v2M176.3 536.9v2M188.1 536.9v3M199.9 536.9v2M211.8 536.9v2M223.6 536.9v2M235.4 536.9v3M247.2 536.9v2M259.1 536.9v2M270.9 536.9v2M282.7 536.9v3M294.5 536.9v2M306.4 536.9v2M318.2 536.9v2M25.4 536.9h-3M25.4 532.0h-2M25.4 527.1h-2M25.4 522.3h-2M25.4 517.4h-2M25.4 512.5h-3M25.4 507.6h-2M25.4 502.7h-2M25.4 497.8h-2M25.4 493.0h-2M25.4 488.1h-3M25.4 483.2h-2M25.4 478.3h-2M25.4 473.4h-2M25.4 468.6h-2M25.4 463.7h-3M25.4 458.8h-2M25.4 453.9h-2M25.4 449.0h-2M25.4 444.1h-2M25.4 439.3h-3M25.4 434.4h-2M25.4 429.5h-2M25.4 424.6h-2M25.4 419.7h-2M25.4 414.8h-3M25.4 410.0h-2M25.4 405.1h-2M25.4 400.2h-2M25.4 395.3h-2M25.4 390.4h-3M25.4 385.6h-2M25.4 380.7h-2M25.4 375.8h-2M25.4 370.9h-2M25.4 366.0h-3M25.4 361.1h-2M25.4 356.3h-2M25.4 351.4h-2M25.4 346.5h-2M25.4 341.6h-3M25.4 336.7h-2M25.4 331.9h-2M25.4 327.0h-2M25.4 322.1h-2" stroke="#8a8a8a" stroke-width="0.9" fill="none"/>
<text x="46.2" y="550.5" font-size="10.07" text-anchor="middle" fill="#333" textLength="13.21" lengthAdjust="spacingAndGlyphs">0.4</text>
<text x="93.5" y="550.5" font-size="10.07" text-anchor="middle" fill="#333" textLength="13.21" lengthAdjust="spacingAndGlyphs">0.6</text>
<text x="140.8" y="550.5" font-size="10.07" text-anchor="middle" fill="#333" textLength="13.21" lengthAdjust="spacingAndGlyphs">0.8</text>
<text x="188.1" y="550.5" font-size="10.07" text-anchor="middle" fill="#333" textLength="13.21" lengthAdjust="spacingAndGlyphs">1.0</text>
<text x="235.4" y="550.5" font-size="10.07" text-anchor="middle" fill="#333" textLength="13.21" lengthAdjust="spacingAndGlyphs">1.2</text>
<text x="282.7" y="550.5" font-size="10.07" text-anchor="middle" fill="#333" textLength="13.21" lengthAdjust="spacingAndGlyphs">1.4</text>
<text x="19.5" y="540.3" font-size="10.07" text-anchor="end" fill="#333" textLength="5.28" lengthAdjust="spacingAndGlyphs">0</text>
<text x="19.5" y="515.9" font-size="10.07" text-anchor="end" fill="#333" textLength="5.28" lengthAdjust="spacingAndGlyphs">1</text>
<text x="19.5" y="491.5" font-size="10.07" text-anchor="end" fill="#333" textLength="5.28" lengthAdjust="spacingAndGlyphs">2</text>
<text x="19.5" y="467.1" font-size="10.07" text-anchor="end" fill="#333" textLength="5.28" lengthAdjust="spacingAndGlyphs">3</text>
<text x="19.5" y="442.7" font-size="10.07" text-anchor="end" fill="#333" textLength="5.28" lengthAdjust="spacingAndGlyphs">4</text>
<text x="19.5" y="418.3" font-size="10.07" text-anchor="end" fill="#333" textLength="5.28" lengthAdjust="spacingAndGlyphs">5</text>
<text x="19.5" y="393.9" font-size="10.07" text-anchor="end" fill="#333" textLength="5.28" lengthAdjust="spacingAndGlyphs">6</text>
<text x="19.5" y="369.4" font-size="10.07" text-anchor="end" fill="#333" textLength="5.28" lengthAdjust="spacingAndGlyphs">7</text>
<text x="19.5" y="345.0" font-size="10.07" text-anchor="end" fill="#333" textLength="5.28" lengthAdjust="spacingAndGlyphs">8</text>
<text x="170.0" y="560.5" font-size="8.5" text-anchor="middle" fill="#333" >Inactivation rate (%/min)</text>
<text x="0.0" y="0.0" font-size="8.0" text-anchor="middle" fill="#333" transform="translate(9.3,428.2) rotate(-90)">Posterior probability density</text>
<text x="92.6" y="329.3" font-size="8.5" text-anchor="start" fill="#e04848" >0.58 %/min</text>
<text x="253.0" y="329.3" font-size="8.5" text-anchor="start" fill="#3a8a3a" >1.26 %/min</text>
<line x1="487.5" y1="536.0" x2="487.5" y2="318" stroke="#a8a8d8" stroke-width="1" stroke-dasharray="2 2"/>
<polyline points="392.85,536.00 393.35,536.00 394.35,535.99 395.36,536.00 396.36,535.99 397.36,536.00 398.36,536.00 399.37,535.99 400.37,535.99 401.37,535.98 402.38,535.96 403.38,535.99 404.38,535.97 405.38,535.96 406.39,535.95 407.39,535.96 408.39,535.96 409.39,535.91 410.40,535.92 411.40,535.88 412.40,535.81 413.41,535.81 414.41,535.81 415.41,535.69 416.41,535.70 417.42,535.55 418.42,535.50 419.42,535.41 420.42,535.22 421.43,535.30 422.43,535.19 423.43,535.07 424.44,534.84 425.44,534.52 426.44,534.17 427.44,534.06 428.45,533.65 429.45,533.35 430.45,533.08 431.45,532.43 432.46,531.93 433.46,531.19 434.46,530.27 435.47,530.08 436.47,528.89 437.47,528.15 438.47,527.19 439.48,526.46 440.48,524.38 441.48,523.01 442.48,521.31 443.49,519.82 444.49,518.71 445.49,516.15 446.49,514.16 447.50,511.28 448.50,509.85 449.50,506.01 450.51,503.47 451.51,500.13 452.51,497.48 453.51,492.69 454.52,490.12 455.52,485.28 456.52,482.08 457.52,477.51 458.53,472.84 459.53,466.89 460.53,460.57 461.54,457.48 462.54,449.33 463.54,445.43 464.54,441.39 465.55,433.87 466.55,428.46 467.55,420.33 468.55,415.15 469.56,407.69 470.56,403.86 471.56,397.40 472.57,390.37 473.57,385.14 474.57,379.22 475.57,372.25 476.58,367.31 477.58,360.62 478.58,358.09 479.58,352.32 480.59,346.20 481.59,342.70 482.59,340.17 483.60,335.31 484.60,331.46 485.60,329.92 486.60,329.78 487.61,327.07 488.61,326.79 489.61,326.36 490.61,324.03 491.62,326.95 492.62,325.77 493.62,327.69 494.62,331.65 495.63,333.84 496.63,336.00 497.63,339.76 498.64,342.61 499.64,345.43 500.64,351.10 501.64,356.81 502.65,361.90 503.65,366.34 504.65,370.59 505.65,377.17 506.66,384.32 507.66,387.88 508.66,396.34 509.67,400.31 510.67,409.51 511.67,414.60 512.67,421.17 513.68,425.74 514.68,431.89 515.68,437.58 516.68,443.08 517.69,449.34 518.69,454.65 519.69,462.24 520.70,465.85 521.70,471.33 522.70,476.68 523.70,480.37 524.71,484.87 525.71,488.67 526.71,492.20 527.71,496.45 528.72,500.33 529.72,502.79 530.72,505.21 531.73,508.73 532.73,511.43 533.73,513.89 534.73,515.64 535.74,518.23 536.74,519.92 537.74,521.61 538.74,523.30 539.75,524.64 540.75,526.28 541.75,527.01 542.76,528.09 543.76,528.95 544.76,529.78 545.76,530.65 546.77,531.20 547.77,532.28 548.77,532.64 549.77,532.91 550.78,533.48 551.78,533.54 552.78,533.90 553.78,534.21 554.79,534.55 555.79,534.78 556.79,534.83 557.80,535.16 558.80,535.11 559.80,535.32 560.80,535.51 561.81,535.57 562.81,535.55 563.81,535.70 564.81,535.82 565.82,535.72 566.82,535.86 567.82,535.81 568.83,535.87 569.83,535.86 570.83,535.91 571.83,535.93 572.84,535.95 573.84,535.96 574.84,535.96 575.84,535.98 576.85,535.96 577.85,535.99 578.85,536.00 579.86,535.99 580.86,536.00 581.86,535.97 582.86,535.98 583.87,536.00 584.87,535.99 585.87,536.00 586.87,535.99 587.88,536.00 588.88,536.00 589.88,536.00 590.89,536.00 591.89,536.00 592.89,536.00 593.89,535.99 594.90,536.00 595.90,536.00 596.40,536.00" fill="none" stroke="#2a2ad8" stroke-width="1.1"/>
<line x1="534.5" y1="536.0" x2="534.5" y2="318" stroke="#e8e0a8" stroke-width="1" stroke-dasharray="2 2"/>
<polyline points="436.21,536.00 436.72,535.91 437.72,535.86 438.72,535.84 439.72,535.80 440.73,535.77 441.73,535.81 442.73,535.79 443.74,535.68 444.74,535.72 445.74,535.53 446.74,535.55 447.75,535.52 448.75,535.43 449.75,535.29 450.75,535.18 451.76,535.22 452.76,534.83 453.76,534.64 454.77,534.62 455.77,534.53 456.77,534.29 457.77,533.94 458.78,534.02 459.78,533.72 460.78,533.37 461.78,533.28 462.79,532.93 463.79,532.28 464.79,531.81 465.79,531.60 466.80,531.03 467.80,530.24 468.80,529.45 469.81,529.19 470.81,528.39 471.81,527.28 472.81,526.29 473.82,525.46 474.82,525.09 475.82,523.85 476.82,522.92 477.83,520.87 478.83,519.71 479.83,518.29 480.84,516.55 481.84,515.38 482.84,513.33 483.84,510.65 484.85,509.67 485.85,507.62 486.85,505.12 487.85,502.89 488.86,499.49 489.86,497.64 490.86,494.99 491.87,492.85 492.87,489.60 493.87,486.03 494.87,483.21 495.88,480.65 496.88,476.15 497.88,473.14 498.88,468.09 499.89,465.56 500.89,461.90 501.89,457.42 502.90,453.84 503.90,449.79 504.90,445.48 505.90,442.83 506.91,439.54 507.91,433.74 508.91,427.87 509.91,424.83 510.92,420.58 511.92,416.74 512.92,415.01 513.92,408.29 514.93,404.69 515.93,401.12 516.93,398.71 517.94,394.44 518.94,390.35 519.94,389.09 520.94,384.85 521.95,382.29 522.95,379.36 523.95,375.61 524.95,375.94 525.96,372.76 526.96,370.37 527.96,367.70 528.97,366.55 529.97,367.24 530.97,365.22 531.97,364.65 532.98,364.58 533.98,363.99 534.98,365.95 535.98,366.24 536.99,365.30 537.99,368.86 538.99,369.78 540.00,368.60 541.00,372.69 542.00,375.26 543.00,377.81 544.01,378.31 545.01,381.80 546.01,384.79 547.01,385.91 548.02,390.69 549.02,395.12 550.02,398.26 551.03,401.03 552.03,404.80 553.03,409.09 554.03,410.26 555.04,417.28 556.04,420.73 557.04,425.94 558.04,428.85 559.05,433.57 560.05,436.66 561.05,441.90 562.06,446.55 563.06,447.95 564.06,454.73 565.06,456.41 566.07,462.35 567.07,465.94 568.07,468.76 569.07,474.50 570.08,475.36 571.08,478.20 572.08,483.24 573.08,486.01 574.09,488.79 575.09,491.74 576.09,494.56 577.10,496.49 578.10,499.92 579.10,502.27 580.10,505.69 581.11,506.59 582.11,508.98 583.11,511.09 584.11,512.48 585.12,514.47 586.12,516.14 587.12,518.38 588.13,519.42 589.13,520.78 590.13,522.65 591.13,522.98 592.14,523.92 593.14,525.61 594.14,526.50 595.14,527.70 596.15,527.82 597.15,528.71 598.15,529.45 599.16,529.91 600.16,530.80 601.16,531.45 602.16,531.85 603.17,531.99 604.17,532.51 605.17,532.85 606.17,533.27 607.18,533.50 608.18,533.84 609.18,534.17 610.19,534.29 611.19,534.29 612.19,534.71 613.19,534.79 614.20,535.07 615.20,535.16 616.20,535.24 617.20,535.29 618.21,535.45 619.21,535.39 620.21,535.55 621.21,535.52 622.22,535.71 623.22,535.70 624.22,535.73 625.23,535.74 626.23,535.78 627.23,535.84 628.23,535.87 629.24,535.83 630.24,535.92 631.24,535.88 632.24,535.91 633.25,535.96 634.25,535.95 635.25,535.96 636.26,535.96 637.26,535.96 638.26,535.96 639.26,535.96 639.76,536.00" fill="none" stroke="#f0d020" stroke-width="1.1"/>
<path d="M383.3 536.0H687.6M386.3 536.0V312.6M392.8 536.0v2M401.7 536.0v3M410.6 536.0v2M419.4 536.0v2M428.2 536.0v2M437.1 536.0v3M445.9 536.0v2M454.8 536.0v2M463.6 536.0v2M472.5 536.0v3M481.3 536.0v2M490.2 536.0v2M499.0 536.0v2M507.9 536.0v3M516.8 536.0v2M525.6 536.0v2M534.5 536.0v2M543.3 536.0v3M552.1 536.0v2M561.0 536.0v2M569.9 536.0v2M578.7 536.0v3M587.5 536.0v2M596.4 536.0v2M605.2 536.0v2M614.1 536.0v3M623.0 536.0v2M631.8 536.0v2M640.6 536.0v2M649.5 536.0v3M658.3 536.0v2M667.2 536.0v2M676.0 536.0v2M684.9 536.0v3M386.3 536.0h-3M386.3 529.9h-2M386.3 523.8h-2M386.3 517.6h-2M386.3 511.5h-2M386.3 505.4h-3M386.3 499.3h-2M386.3 493.2h-2M386.3 487.0h-2M386.3 480.9h-2M386.3 474.8h-3M386.3 468.7h-2M386.3 462.6h-2M386.3 456.4h-2M386.3 450.3h-2M386.3 444.2h-3M386.3 438.1h-2M386.3 432.0h-2M386.3 425.8h-2M386.3 419.7h-2M386.3 413.6h-3M386.3 407.5h-2M386.3 401.4h-2M386.3 395.2h-2M386.3 389.1h-2M386.3 383.0h-3M386.3 376.9h-2M386.3 370.8h-2M386.3 364.6h-2M386.3 358.5h-2M386.3 352.4h-3M386.3 346.3h-2M386.3 340.2h-2M386.3 334.0h-2M386.3 327.9h-2M386.3 321.8h-3M386.3 315.7h-2" stroke="#8a8a8a" stroke-width="0.9" fill="none"/>
<text x="401.7" y="550.2" font-size="10.07" text-anchor="middle" fill="#333" textLength="10.56" lengthAdjust="spacingAndGlyphs">18</text>
<text x="437.1" y="550.2" font-size="10.07" text-anchor="middle" fill="#333" textLength="10.56" lengthAdjust="spacingAndGlyphs">20</text>
<text x="472.5" y="550.2" font-size="10.07" text-anchor="middle" fill="#333" textLength="10.56" lengthAdjust="spacingAndGlyphs">22</text>
<text x="507.9" y="550.2" font-size="10.07" text-anchor="middle" fill="#333" textLength="10.56" lengthAdjust="spacingAndGlyphs">24</text>
<text x="543.3" y="550.2" font-size="10.07" text-anchor="middle" fill="#333" textLength="10.56" lengthAdjust="spacingAndGlyphs">26</text>
<text x="578.7" y="550.2" font-size="10.07" text-anchor="middle" fill="#333" textLength="10.56" lengthAdjust="spacingAndGlyphs">28</text>
<text x="614.1" y="550.2" font-size="10.07" text-anchor="middle" fill="#333" textLength="10.56" lengthAdjust="spacingAndGlyphs">30</text>
<text x="649.5" y="550.2" font-size="10.07" text-anchor="middle" fill="#333" textLength="10.56" lengthAdjust="spacingAndGlyphs">32</text>
<text x="684.9" y="550.2" font-size="10.07" text-anchor="middle" fill="#333" textLength="10.56" lengthAdjust="spacingAndGlyphs">34</text>
<text x="381.0" y="539.4" font-size="10.07" text-anchor="end" fill="#333" textLength="18.49" lengthAdjust="spacingAndGlyphs">0.00</text>
<text x="381.0" y="508.8" font-size="10.07" text-anchor="end" fill="#333" textLength="18.49" lengthAdjust="spacingAndGlyphs">0.05</text>
<text x="381.0" y="478.2" font-size="10.07" text-anchor="end" fill="#333" textLength="18.49" lengthAdjust="spacingAndGlyphs">0.10</text>
<text x="381.0" y="447.6" font-size="10.07" text-anchor="end" fill="#333" textLength="18.49" lengthAdjust="spacingAndGlyphs">0.15</text>
<text x="381.0" y="417.0" font-size="10.07" text-anchor="end" fill="#333" textLength="18.49" lengthAdjust="spacingAndGlyphs">0.20</text>
<text x="381.0" y="386.4" font-size="10.07" text-anchor="end" fill="#333" textLength="18.49" lengthAdjust="spacingAndGlyphs">0.25</text>
<text x="381.0" y="355.8" font-size="10.07" text-anchor="end" fill="#333" textLength="18.49" lengthAdjust="spacingAndGlyphs">0.30</text>
<text x="381.0" y="325.2" font-size="10.07" text-anchor="end" fill="#333" textLength="18.49" lengthAdjust="spacingAndGlyphs">0.35</text>
<text x="537.0" y="561.0" font-size="8.5" text-anchor="middle" fill="#333" >Inactivation rate (%/min)</text>
<text x="0.0" y="0.0" font-size="8.5" text-anchor="middle" fill="#333" transform="translate(359.3,423.3) rotate(-90)">Posterior probability density</text>
<text x="485.5" y="320.3" font-size="9" text-anchor="end" fill="#3535d0" >22.8</text>
<text x="485.5" y="329.8" font-size="9" text-anchor="end" fill="#3535d0" >%/min</text>
<text x="537.6" y="320.3" font-size="9" text-anchor="start" fill="#f0d040" >25.5</text>
<text x="537.6" y="329.8" font-size="9" text-anchor="start" fill="#f0d040" >%/min</text>
</svg></body></html>
